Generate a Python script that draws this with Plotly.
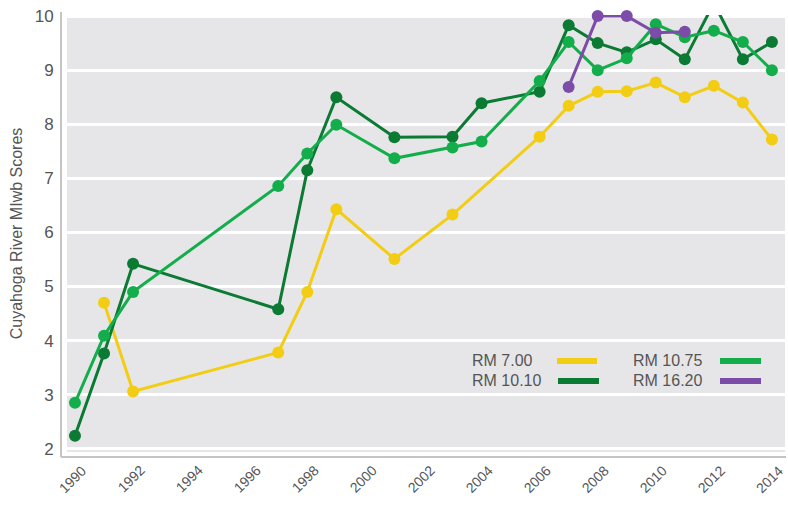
import plotly.graph_objects as go

# ---- data ----
years_7_00 = [1991, 1992, 1997, 1998, 1999, 2001, 2003, 2006, 2007, 2008, 2009, 2010, 2011, 2012, 2013, 2014]
rm_7_00 = [4.70, 3.06, 3.78, 4.90, 6.43, 5.51, 6.33, 7.77, 8.34, 8.60, 8.61, 8.77, 8.50, 8.71, 8.40, 7.72]

years_10_10 = [1990, 1991, 1992, 1997, 1998, 1999, 2001, 2003, 2004, 2006, 2007, 2008, 2009, 2010, 2011, 2012, 2013, 2014]
rm_10_10 = [2.24, 3.76, 5.42, 4.58, 7.15, 8.50, 7.76, 7.77, 8.39, 8.60, 9.83, 9.50, 9.33, 9.57, 9.20, 10.24, 9.20, 9.52]

years_10_75 = [1990, 1991, 1992, 1997, 1998, 1999, 2001, 2003, 2004, 2006, 2007, 2008, 2009, 2010, 2011, 2012, 2013, 2014]
rm_10_75 = [2.85, 4.09, 4.90, 6.86, 7.46, 7.99, 7.37, 7.57, 7.68, 8.80, 9.52, 9.00, 9.22, 9.85, 9.61, 9.73, 9.52, 9.00]

years_16_20 = [2007, 2008, 2009, 2010, 2011]
rm_16_20 = [8.69, 10.00, 10.00, 9.69, 9.71]

series_names = ["RM 7.00", "RM 10.10", "RM 10.75", "RM 16.20"]
x_ticks = list(range(1990, 2015, 2))
x_tick_labels = [str(v) for v in x_ticks]
y_ticks = [2, 3, 4, 5, 6, 7, 8, 9, 10]

colors = ["#F2CD14", "#0B7A33", "#13AE4B", "#7D4CA9"]
TXT = "#555555"
FONT = "Liberation Sans, Arial, sans-serif"

W, H = 788, 505
L, R, T, B = 67, 3, 15, 53
PW, PH = W - L - R, H - T - B


def px(x):
    return (x - L) / PW


def py(y):
    return (H - B - y) / PH


fig = go.Figure()
data = [(years_7_00, rm_7_00), (years_10_10, rm_10_10), (years_10_75, rm_10_75), (years_16_20, rm_16_20)]
for (xs, ys), name, c in zip(data, series_names, colors):
    fig.add_trace(go.Scatter(
        x=xs, y=ys, name=name, mode="lines+markers",
        line=dict(color=c, width=3),
        marker=dict(color=c, size=12),
        cliponaxis=False, showlegend=False,
    ))

shapes = []
# offset axis spines
shapes.append(dict(type="line", xref="paper", yref="paper", x0=px(61), x1=px(61), y0=py(12), y1=py(457),
                   line=dict(color="#c4c4c4", width=2)))
shapes.append(dict(type="line", xref="paper", yref="paper", x0=px(61), x1=px(786), y0=py(457), y1=py(457),
                   line=dict(color="#c4c4c4", width=2)))

annotations = []
# rotated x tick labels, centred under each tick
for v, lab in zip(x_ticks, x_tick_labels):
    annotations.append(dict(text=lab, xref="x", yref="paper", x=v, y=py(460), xshift=-2,
                            xanchor="center", yanchor="top", showarrow=False, textangle=-45,
                            font=dict(size=14, color=TXT, family=FONT)))

# custom legend: text then line sample
leg = [
    ("RM 7.00", 470, 360, 557, 597, colors[0]),
    ("RM 10.10", 470, 380, 558, 599, colors[1]),
    ("RM 10.75", 631, 360, 720, 761, colors[2]),
    ("RM 16.20", 631, 380, 720, 761, colors[3]),
]
for text, tx, ty, lx0, lx1, c in leg:
    annotations.append(dict(text=text, xref="paper", yref="paper", x=px(tx), y=py(ty),
                            xanchor="left", yanchor="middle", showarrow=False,
                            font=dict(size=16, color=TXT, family=FONT)))
    shapes.append(dict(type="line", xref="paper", yref="paper", x0=px(lx0), x1=px(lx1), y0=py(ty + 1), y1=py(ty + 1),
                       line=dict(color=c, width=6)))

fig.update_layout(
    width=W, height=H,
    margin=dict(l=L, r=R, t=T, b=B, pad=0, autoexpand=False),
    paper_bgcolor="white",
    plot_bgcolor="#E6E6E8",
    font=dict(family=FONT, color=TXT),
    shapes=shapes,
    annotations=annotations,
    showlegend=False,
    hovermode=False,
)
fig.update_xaxes(
    range=[1989.725, 2014.45], tickvals=x_ticks, showticklabels=False,
    showgrid=False, zeroline=False, showline=False, automargin=False,
)
fig.update_yaxes(
    range=[1.94, 10.02], tickvals=y_ticks, ticktext=[str(v) for v in y_ticks],
    tickfont=dict(size=17, color=TXT, family=FONT),
    showgrid=True, gridcolor="white", gridwidth=3, zeroline=False, showline=False, automargin=False,
    ticks="outside", ticklen=9, tickcolor="rgba(0,0,0,0)",
    title=dict(text="Cuyahoga River MIwb Scores", font=dict(size=16, color=TXT, family=FONT), standoff=8),
)

fig.write_html("out.html", config={"displayModeBar": False},
               post_script="document.body.style.margin='0px';")
